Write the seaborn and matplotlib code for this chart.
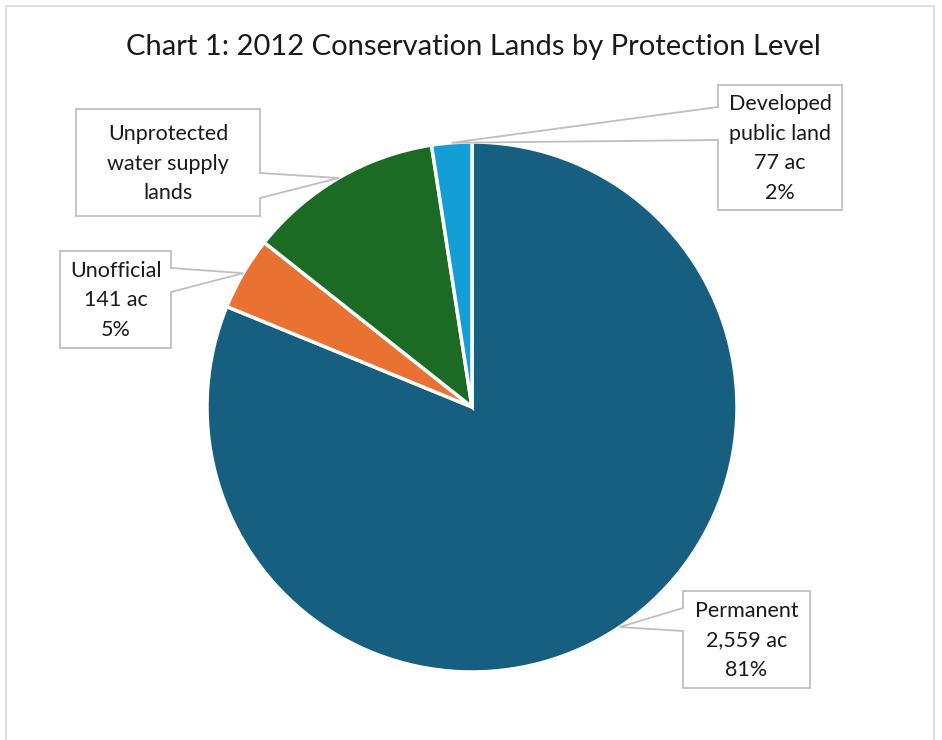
import matplotlib
matplotlib.use("Agg")
import matplotlib.pyplot as plt
import seaborn as sns
import numpy as np
from matplotlib.patches import Polygon, Rectangle

# data
categories = ["Permanent", "Unofficial", "Unprotected water supply lands", "Developed public land"]
acres = [2559, 141, 375, 77]
label_texts = ["Permanent\n2,559 ac\n81%",
               "Unofficial\n141 ac\n5%",
               "Unprotected\nwater supply\nlands",
               "Developed\npublic land\n77 ac\n2%"]
colors = ["#175F80", "#E97232", "#1B6B24", "#139ED6"]

sns.set_theme(style="white")
plt.rcParams["font.family"] = ["Lato", "DejaVu Sans"]

W, H = 942, 740
fig = plt.figure(figsize=(W / 100, H / 100), dpi=100)

# pie axes: centre (472, 407) px, radius 265 px
cx, cy, r = 472, 407, 265
ax = fig.add_axes([(cx - r) / W, (H - cy - r) / H, 2 * r / W, 2 * r / H])
wedges, _ = ax.pie(acres, colors=colors, startangle=90, counterclock=False,
                   radius=1, wedgeprops=dict(edgecolor="white", linewidth=2.5))
ax.set_xlim(-1, 1)
ax.set_ylim(-1, 1)
ax.set_aspect("equal")
ax.axis("off")

# overlay in pixel coordinates (y down) for frame, title and callouts
ov = fig.add_axes([0, 0, 1, 1], zorder=5)
ov.set_xlim(0, W)
ov.set_ylim(H, 0)
ov.axis("off")
ov.patch.set_alpha(0)

ov.add_patch(Rectangle((6, 6), 928, 760, fill=False, edgecolor="#D9D9D9", lw=1.2))
ov.text(473, 47, "Chart 1: 2012 Conservation Lands by Protection Level",
        ha="center", va="center", fontsize=21, color="#1a1a1a")

# callout boxes: (x0, y0, x1, y1, side, base_top, base_bottom)
boxes = [(683, 591, 810, 688, "left", 608, 631),
         (60, 251, 171, 348, "right", 268, 292),
         (76, 109, 260, 216, "right", 173, 198),
         (718, 85, 842, 210, "left", 107, 140)]

fig.canvas.draw()
for w, txt, (x0, y0, x1, y1, side, b0, b1) in zip(wedges, label_texts, boxes):
    mid = np.deg2rad((w.theta1 + w.theta2) / 2)
    tx, ty = ax.transData.transform((np.cos(mid), np.sin(mid)))
    tip = (tx, H - ty)
    if side == "left":
        pts = [(x0, y0), (x1, y0), (x1, y1), (x0, y1), (x0, b1), tip, (x0, b0)]
    else:
        pts = [(x0, y0), (x1, y0), (x1, b0), tip, (x1, b1), (x1, y1), (x0, y1)]
    ov.add_patch(Polygon(pts, closed=True, facecolor="white",
                         edgecolor="#BFBFBF", lw=1.3))
    ov.text((x0 + x1) / 2, (y0 + y1) / 2 + 1, txt, ha="center", va="center",
            fontsize=15.5, linespacing=1.6, color="#1a1a1a")

fig.savefig("out.png", dpi=100, facecolor="white")
